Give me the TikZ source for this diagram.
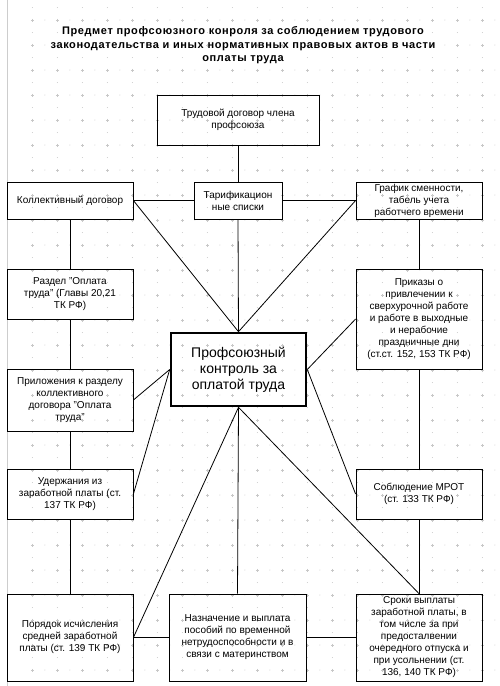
\documentclass[tikz,border=0pt]{standalone}
\usepackage{fontspec}
\setmainfont{Liberation Sans}
\usepackage{xcolor}
\usetikzlibrary{arrows.meta,positioning,calc}
\definecolor{GridGray}{RGB}{200,200,200}
\definecolor{MarginGray}{RGB}{205,205,205}

\begin{document}
\begin{tikzpicture}[x=1pt, y=-1pt,
    box/.style={draw, line width=0.8pt, inner sep=1pt, align=center,
      minimum width=126pt, font=\fontsize{10}{12}\selectfont},
    mainbox/.style={draw, line width=2.6pt, inner sep=1pt, align=center,
      minimum width=135pt, minimum height=73pt, font=\fontsize{14}{16}\selectfont},
    link/.style={line width=0.8pt}]
        \useasboundingbox (0,0) rectangle (499,686);
        % background grid
        \foreach \i in {0,...,18} {
          \foreach \j in {0,...,26} {
            \draw[GridGray, line width=0.5pt] (32.3+25*\i-1.5, 20+25*\j) -- ++(3,0)
              (32.3+25*\i, 20+25*\j-1.5) -- ++(0,3);
            \fill[GridGray] (44.8+25*\i, 20+25*\j) circle (0.5)
              (32.3+25*\i, 7.5+25*\j) circle (0.5);
          }
        }
        \draw[MarginGray, line width=1.2pt] (7.3,0)--(7.3,686);
        % title
        \node[align=center, font=\bfseries\fontsize{11}{13.6}\selectfont\addfontfeatures{LetterSpace=5.5}] (title) at (243,45.5)
          {Предмет профсоюзного конроля за соблюдением трудового\\
           законодательства и иных нормативных правовых актов в части\\
           оплаты труда};
        % boxes
        \node[box, minimum width=162pt, minimum height=50pt] (trud) at (238,120) {Трудовой договор члена\\профсоюза};
        \node[box, minimum height=37pt] (koll) at (70,200.5) {Коллективный договор};
        \node[box, minimum width=88pt, minimum height=37pt] (tarif) at (238,200.5) {Тарификацион\\ные списки};
        \node[box, minimum height=37pt] (grafik) at (419,200.5) {График сменности,\\табель учета\\работчего времени};
        \node[box, minimum height=50pt] (razdel) at (70,294) {Раздел "Оплата\\труда" (Главы 20,21\\ТК РФ)};
        \node[box, minimum height=100pt] (prikaz) at (419,319) {Приказы о\\привлечении к\\сверхурочной работе\\и работе в выходные\\и нерабочие\\праздничные дни\\(ст.ст. 152, 153 ТК РФ)};
        \node[mainbox] (kontrol) at (238.5,369.5) {Профсоюзный\\контроль за\\оплатой труда};
        \node[box, minimum height=62pt] (prilozh) at (70,400) {Приложения к разделу\\коллективного\\договора "Оплата\\труда"};
        \node[box, minimum height=50pt] (uderzh) at (70,494) {Удержания из\\заработной платы (ст.\\137 ТК РФ)};
        \node[box, minimum height=50pt] (mrot) at (419,494) {Соблюдение МРОТ\\(ст. 133 ТК РФ)};
        \node[box, minimum height=87pt] (poryadok) at (70,637.5) {Порядок исчисления\\средней заработной\\платы (ст. 139 ТК РФ)};
        \node[box, minimum width=137pt, minimum height=87pt] (posob) at (237.5,637.5) {Назначение и выплата\\пособий по временной\\нетрудоспособности и в\\связи с материнством};
        \node[box, minimum height=87pt] (sroki) at (419,637.5) {Сроки выплаты\\заработной платы, в\\том числе за при\\предосталвении\\очередного отпуска и\\при усольнении (ст.\\136, 140 ТК РФ)};
        % top row
        \draw[link] (trud.south)--(tarif.north);
        \draw[link] (koll.east)--(tarif.west);
        \draw[link] (tarif.east)--(grafik.west);
        \draw[link] (koll.east)--(kontrol.north);
        \draw[link] (tarif.south)--(kontrol.north);
        \draw[link] (grafik.west)--(kontrol.north);
        % left column
        \draw[link] (koll.south)--(razdel.north);
        \draw[link] (razdel.south)--(prilozh.north);
        \draw[link] (prilozh.south)--(uderzh.north);
        \draw[link] (uderzh.south)--(poryadok.north);
        \draw[link] (prilozh.east)--(kontrol.west);
        \draw[link] (uderzh.east)--(kontrol.west);
        % right column
        \draw[link] (grafik.south)--(prikaz.north);
        \draw[link] (prikaz.south)--(mrot.north);
        \draw[link] (mrot.south)--(sroki.north);
        \draw[link] (prikaz.west)--(kontrol.east);
        \draw[link] (mrot.west)--(kontrol.east);
        % bottom row
        \draw[link] (kontrol.south)--(poryadok.east);
        \draw[link] (kontrol.south)--(posob.north);
        \draw[link] (kontrol.south)--(sroki.north);
        \draw[link] (poryadok.east)--(posob.west);
        \draw[link] (posob.east)--(sroki.west);
      \end{tikzpicture}
\end{document}
